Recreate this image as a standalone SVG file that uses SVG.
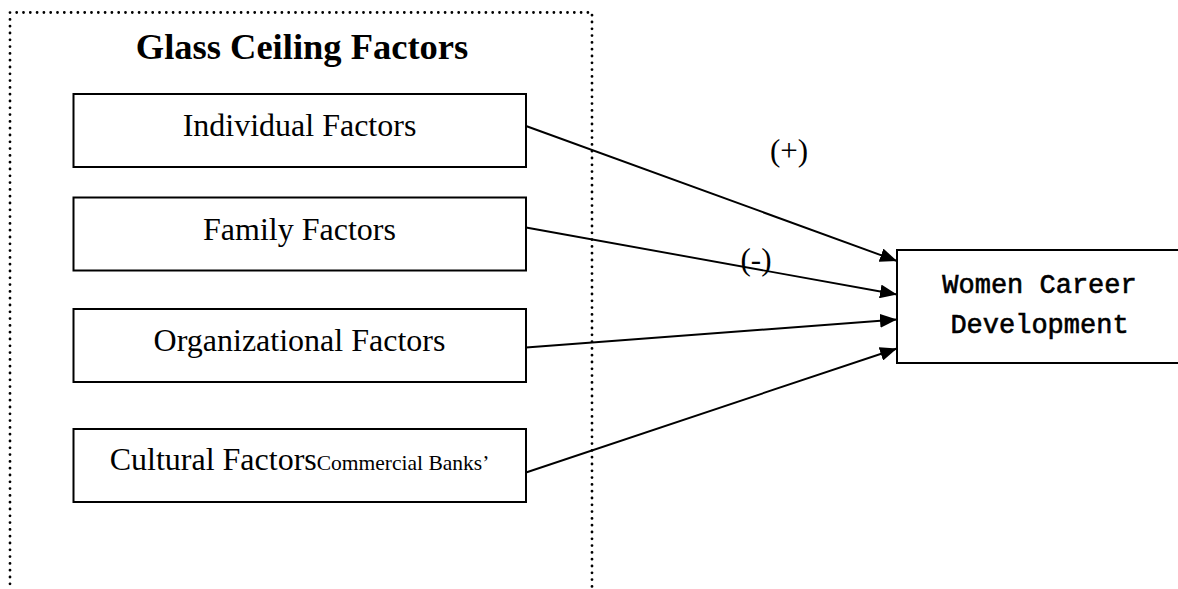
<svg xmlns="http://www.w3.org/2000/svg" width="1178" height="589" viewBox="0 0 1178 589">
  <style>
    .frame { fill: none; stroke: #000; stroke-width: 2.8; stroke-linecap: round; stroke-dasharray: 0 6.8; }
    .box { fill: #fff; stroke: #000; stroke-width: 2; }
    .label { font-family: "Liberation Serif", "Times New Roman", serif; font-size: 32px; fill: #000; text-anchor: middle; }
    .small { font-size: 21.5px; }
    .title { font-family: "Liberation Serif", "Times New Roman", serif; font-size: 36.5px; font-weight: bold; fill: #000; text-anchor: middle; }
    .mono { font-family: "Liberation Mono", "Courier New", monospace; font-size: 27px; fill: #000; stroke: #000; stroke-width: 0.6; text-anchor: middle; }
    .sign { font-family: "Liberation Serif", "Times New Roman", serif; font-size: 31px; fill: #000; text-anchor: middle; }
    .link { fill: none; stroke: #000; stroke-width: 1.9; }
  </style>
  <defs>
    <marker id="arrow" markerUnits="userSpaceOnUse" markerWidth="17" markerHeight="14" refX="17" refY="7" orient="auto">
      <path d="M0,0 L17,7 L0,14 Z" fill="#000"/>
    </marker>
  </defs>

  <rect width="1178" height="589" fill="#fff"/>

  <!-- dotted group boundary, open at the bottom -->
  <g id="glass-ceiling-group">
    <path class="frame" d="M592,600 V12.5 H10 V600"/>
    <text class="title" x="302" y="59">Glass Ceiling Factors</text>
  </g>

  <g id="individual">
    <rect class="box" x="73.5" y="94" width="452.5" height="73"/>
    <text class="label" x="299.5" y="136">Individual Factors</text>
  </g>

  <g id="family">
    <rect class="box" x="73.5" y="197.5" width="452.5" height="73"/>
    <text class="label" x="299.5" y="239.5">Family Factors</text>
  </g>

  <g id="organizational">
    <rect class="box" x="73.5" y="309" width="452.5" height="73"/>
    <text class="label" x="299.5" y="351">Organizational Factors</text>
  </g>

  <g id="cultural">
    <rect class="box" x="73.5" y="429" width="452.5" height="73"/>
    <text class="label" x="299.5" y="470">Cultural Factors<tspan class="small">Commercial Banks’</tspan></text>
  </g>

  <g id="women-career">
    <rect class="box" x="897" y="250" width="290" height="113"/>
    <text class="mono" x="1039.5" y="293">Women Career</text>
    <text class="mono" x="1039.5" y="333">Development</text>
  </g>

  <g id="connectors">
    <line class="link" x1="526" y1="126" x2="897" y2="261" marker-end="url(#arrow)"/>
    <line class="link" x1="526" y1="227.5" x2="897" y2="294.5" marker-end="url(#arrow)"/>
    <line class="link" x1="526" y1="347.5" x2="897" y2="319.5" marker-end="url(#arrow)"/>
    <line class="link" x1="526" y1="472.5" x2="897" y2="348.5" marker-end="url(#arrow)"/>
    <text class="sign" x="789" y="160.5">(+)</text>
    <text class="sign" x="756" y="269.5">(-)</text>
  </g>
</svg>
